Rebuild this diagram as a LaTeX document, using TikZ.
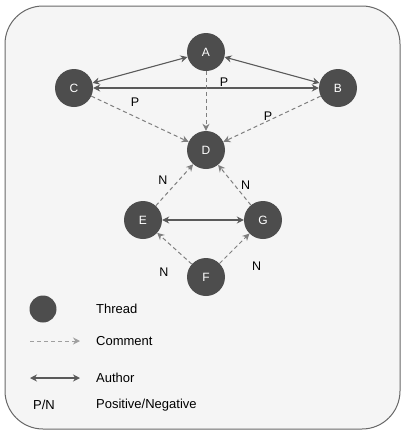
\documentclass[tikz,border=0pt]{standalone}
\usepackage{fontspec}
\setmainfont{Liberation Sans}
\usetikzlibrary{arrows.meta, positioning}
\definecolor{threadgray}{HTML}{4D4D4D}
\definecolor{authorgray}{HTML}{5A5A5A}
\definecolor{commentgray}{HTML}{7F7F7F}
\definecolor{panelgray}{HTML}{F5F5F5}
\tikzset{
    thread/.style={circle, fill=threadgray, text=white, minimum size=38pt, inner sep=0pt, font=\fontsize{12}{14}\selectfont},
    author/.style={draw=authorgray, line width=1.1pt, {Stealth[length=7pt,width=7pt]}-{Stealth[length=7pt,width=7pt]}},
    comment/.style={draw=commentgray, line width=1pt, dash pattern=on 4pt off 3pt, -{Stealth[length=7pt,width=7pt]}},
    sign/.style={font=\fontsize{12.5}{14}\selectfont, inner sep=1pt},
    legendtext/.style={font=\fontsize{13}{15}\selectfont, anchor=west, inner sep=0pt}
}

\begin{document}
\begin{tikzpicture}[x=1pt, y=-1pt]
    \useasboundingbox (0,0) rectangle (402,432);
    \draw[draw=threadgray!85, fill=panelgray, line width=1pt, rounded corners=38pt] (5,6) rectangle (400,429);

    % threads
    \node[thread] (a) at (206,52) {A};
    \node[thread] (c) at (74,88) {C};
    \node[thread] (b) at (338,88) {B};
    \node[thread] (d) at (206,150) {D};
    \node[thread] (e) at (143,220) {E};
    \node[thread] (g) at (263,220) {G};
    \node[thread] (f) at (206,277) {F};

    % authors
    \draw[author] (a) -- (c);
    \draw[author] (a) -- (b);
    \draw[author] (c) -- node[sign, pos=0.58, above=0pt] {P} (b);
    \draw[author] (e) -- (g);

    % comments
    \draw[comment] (a) -- (d);
    \draw[comment] (c) -- node[sign, pos=0.45, above=9pt] {P} (d);
    \draw[comment] (b) -- node[sign, pos=0.54, yshift=5pt] {P} (d);
    \draw[comment] (e) -- node[sign, pos=0.62, left=10pt] {N} (d);
    \draw[comment] (g) -- node[sign, pos=0.5, right=5pt] {N} (d);
    \draw[comment] (f) -- node[sign, pos=0.4, below left=15pt and 8pt] {N} (e);
    \draw[comment] (f) -- node[sign, pos=0.5, below right=12pt and 16pt] {N} (g);

    % legend
    \node[thread, minimum size=27pt] (lthread) at (43,309) {};
    \node[legendtext] (tthread) at (96,309) {Thread};
    \coordinate (lcomment1) at (30,341);
    \coordinate (lcomment2) at (80,341);
    \draw[comment, draw=commentgray!75] (lcomment1) -- (lcomment2);
    \node[legendtext] (tcomment) at (96,341) {Comment};
    \coordinate (lauthor1) at (30,378);
    \coordinate (lauthor2) at (80,378);
    \draw[author] (lauthor1) -- (lauthor2);
    \node[legendtext] (tauthor) at (96,378) {Author};
    \node[legendtext] (lsign) at (33,405) {P/N};
    \node[legendtext] (tsign) at (96,405) {Positive/Negative};
\end{tikzpicture}
\end{document}
